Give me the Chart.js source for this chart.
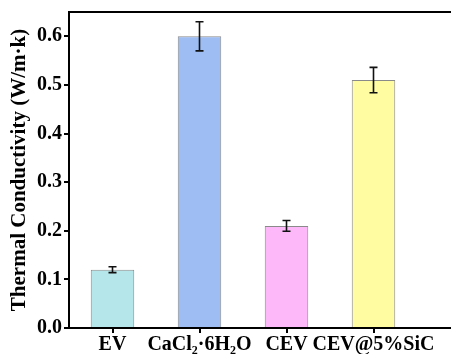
<!DOCTYPE html>
<html>
<head>
<meta charset="utf-8">
<script src="https://cdn.jsdelivr.net/npm/chart.js@4"></script>
<style>
  html, body { margin: 0; padding: 0; background: #fff; overflow: hidden; }
  #recorte { width: 451px; height: 354px; overflow: hidden; }
  #wrap { width: 510px; height: 354px; position: relative; }
</style>
</head>
<body>
<div id="recorte"><div id="wrap"><canvas id="grafico"></canvas></div></div>
<script>
// ==================== DATOS ====================
const categorias = ["EV", "CaCl₂·6H₂O", "CEV", "CEV@5%SiC", ""];
const conductividad = [0.12, 0.60, 0.21, 0.51, null];
const errores = [0.006, 0.030, 0.011, 0.026, null];
const colores = ["#b5e6ea", "#9dbdf3", "#fcb8f8", "#fffca2", "#fff"];
const ticksY = [0, 0.1, 0.2, 0.3, 0.4, 0.5, 0.6];
const yMax = 0.65;

const fuente = "'Liberation Serif', 'Times New Roman', serif";

// barras de error dibujadas con las escalas del grafico
const pluginErrores = {
  id: "errores",
  afterDatasetsDraw(chart) {
    const ctx = chart.ctx;
    const x = chart.scales.x, y = chart.scales.y;
    ctx.save();
    ctx.strokeStyle = "#111";
    ctx.lineWidth = 1.6;
    conductividad.forEach((v, i) => {
      if (v === null) return;
      const px = x.getPixelForValue(i);
      const top = y.getPixelForValue(v + errores[i]);
      const bot = y.getPixelForValue(v - errores[i]);
      ctx.beginPath();
      ctx.moveTo(px, top); ctx.lineTo(px, bot);
      ctx.moveTo(px - 4, top); ctx.lineTo(px + 4, top);
      ctx.moveTo(px - 4, bot); ctx.lineTo(px + 4, bot);
      ctx.stroke();
    });
    ctx.restore();
  }
};

new Chart(document.getElementById("grafico").getContext("2d"), {
  type: "bar",
  data: {
    labels: categorias,
    datasets: [{
      data: conductividad,
      backgroundColor: colores,
      borderColor: "#8a8a8a",
      borderWidth: 1,
      categoryPercentage: 1,
      barPercentage: 0.5
    }]
  },
  options: {
    responsive: true,
    maintainAspectRatio: false,
    animation: false,
    layout: { padding: { top: 0, right: 6, left: 0, bottom: 0 } },
    plugins: { legend: { display: false }, tooltip: { enabled: false } },
    scales: {
      x: {
        afterFit: s => { s.height = 26; },
        grid: { display: true, drawOnChartArea: false, drawTicks: true, tickLength: 5, offset: false, color: "#000", lineWidth: 2 },
        border: { display: true, color: "#000", width: 2 },
        ticks: { color: "#000", font: { family: fuente, size: 20, weight: "bold" }, maxRotation: 0, autoSkip: false, padding: 0 }
      },
      y: {
        min: 0,
        max: yMax,
        afterFit: s => { s.width = 69; s.paddingTop = 12; },
        afterBuildTicks: s => { s.ticks = ticksY.concat([yMax]).map(v => ({ value: v })); },
        grid: {
          drawOnChartArea: true,
          drawTicks: true,
          tickLength: 5,
          lineWidth: 2,
          color: c => (c.tick && c.tick.value === yMax) ? "#000" : "rgba(0,0,0,0)",
          tickColor: c => (c.tick && c.tick.value === yMax) ? "rgba(0,0,0,0)" : "#000"
        },
        border: { display: true, color: "#000", width: 2 },
        ticks: {
          color: "#000",
          padding: 2,
          font: { family: fuente, size: 20, weight: "bold" },
          callback: v => v === yMax ? "" : v.toFixed(1)
        },
        title: {
          display: true,
          text: "Thermal Conductivity (W/m·k)",
          color: "#000",
          padding: { top: 7, bottom: 0 },
          font: { family: fuente, size: 21, weight: "bold" }
        }
      }
    }
  },
  plugins: [pluginErrores]
});
</script>
</body>
</html>
